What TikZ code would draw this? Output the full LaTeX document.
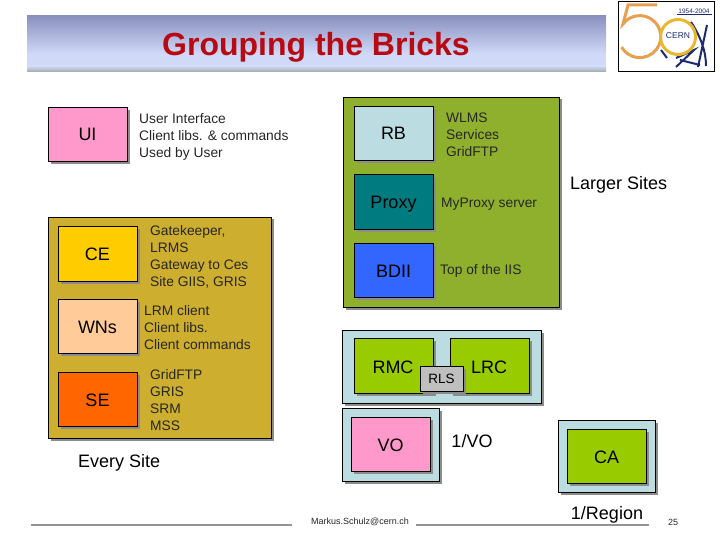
\documentclass[tikz,border=0pt]{standalone}
\usepackage{fontspec}
\setmainfont{Liberation Sans}
\usetikzlibrary{shadows}
\definecolor{rosa}{HTML}{FF99CC}
\definecolor{celeste}{HTML}{BBDDE2}
\definecolor{ocre}{HTML}{CDAE2F}
\definecolor{oliva}{HTML}{8FB02C}
\definecolor{lima}{HTML}{99CC00}
\definecolor{oro}{HTML}{FFCC00}
\definecolor{durazno}{HTML}{FFCC99}
\definecolor{naranja}{HTML}{FF6600}
\definecolor{petroleo}{HTML}{007C80}
\definecolor{azulbdii}{HTML}{3366FF}
\definecolor{titulo}{HTML}{B80A12}
\definecolor{azullogo}{HTML}{1C2C70}
\definecolor{bandaA}{HTML}{8A90BF}
\definecolor{bandaB}{HTML}{D0DAF8}
\definecolor{bandaC}{HTML}{A0AAA8}
\definecolor{cinco}{HTML}{E8A050}
\definecolor{anillo}{HTML}{E8B830}
\tikzset{
  sombra/.style={drop shadow={shadow xshift=2.5pt, shadow yshift=-2.5pt, fill=black!45, opacity=1}},
  caja/.style={draw=black, line width=0.9pt, sombra, inner sep=0pt, font=\fontsize{18}{20}\selectfont,
    text height=13pt, text depth=0pt, minimum width=79pt, minimum height=54.5pt},
  marco/.style={draw=black, line width=0.9pt, sombra},
  texto/.style={anchor=west, align=left, inner sep=0pt, text=black!85, font=\fontsize{13.8}{17}\selectfont},
  rotulo/.style={inner sep=0pt, font=\fontsize{18}{20}\selectfont},
  pie/.style={line width=1.8pt, black!42},
}
\begin{document}
\begin{tikzpicture}[x=1pt, y=-1pt]
    \useasboundingbox (0,0) rectangle (720,540);

    % Banda del titulo
    \shade[top color=bandaA, bottom color=bandaB] (27,16) rectangle (606,54);
    \fill[bandaB] (27,54) rectangle (606,66);
    \shade[top color=bandaB, bottom color=bandaC] (27,66) rectangle (606,72);
    \node[text=titulo, inner sep=0pt, font=\fontsize{32}{34}\selectfont\bfseries] (title) at (316,47) {Grouping the Bricks};

    % Logo
    \draw[black, line width=0.9pt, fill=white] (618,1) rectangle (714,71);
    \draw[azullogo, line width=2pt] (707,25) -- (698,67) (691,22) .. controls (700,36) and (706,50) .. (706,66)
      (661,50) -- (667,58) (676,58) -- (694,50) -- (676,67) (680,60) -- (700,65);
    \draw[azullogo, line width=0.6pt] (677,14) -- (712,14);
    \draw[cinco, line width=3pt] (657,5) -- (628,5) -- (623,24) arc[start angle=217, end angle=510, radius=21];
    \draw[anillo, line width=3pt] (678,37) circle (17.5);
    \node[azullogo, inner sep=0pt, font=\fontsize{8.5}{9}\selectfont] (cern) at (678,36) {CERN};
    \node[azullogo, inner sep=0pt, font=\fontsize{6.5}{7}\selectfont] (anios) at (694,11) {1954-2004};

    % Cliente
    \node[caja, fill=rosa] (UI) at (87.5,134.5) {UI};
    \node[texto] (UItxt) at (139,136.5) {User Interface\\Client libs. \& commands\\Used by User};

    % Sitio
    \draw[marco, fill=ocre] (48,217) rectangle (271,438);
    \node[caja, fill=oro] (CE) at (97.5,254) {CE};
    \node[caja, fill=durazno] (WNs) at (97.5,326.5) {WNs};
    \node[caja, fill=naranja] (SE) at (97.5,399.5) {SE};
    \node[texto] (CEtxt) at (150,257) {Gatekeeper,\\LRMS\\Gateway to Ces\\Site GIIS, GRIS};
    \node[texto] (WNtxt) at (144,328) {LRM client\\Client libs.\\Client commands};
    \node[texto] (SEtxt) at (150,400) {GridFTP\\GRIS\\SRM\\MSS};
    \node[rotulo, anchor=west] (every) at (78,463) {Every Site};

    % Sitios grandes
    \draw[marco, fill=oliva] (343,97) rectangle (559,307);
    \node[caja, fill=celeste] (RB) at (393.5,133.5) {RB};
    \node[caja, fill=petroleo] (Proxy) at (393.5,202) {Proxy};
    \node[caja, fill=azulbdii] (BDII) at (393.5,270.5) {BDII};
    \node[texto] (RBtxt) at (446,135) {WLMS\\Services\\GridFTP};
    \node[texto] (Proxytxt) at (441,204) {MyProxy server};
    \node[texto] (BDIItxt) at (440,271) {Top of the IIS};
    \node[rotulo, anchor=west] (larger) at (570,185) {Larger Sites};

    % Catalogo
    \draw[marco, fill=celeste] (342,330) rectangle (541,403);
    \node[caja, fill=lima] (RMC) at (393.5,366) {};
    \node[caja, fill=lima] (LRC) at (489.5,366) {};
    \node[rotulo] (RMCtxt) at (393,367) {RMC};
    \node[rotulo] (LRCtxt) at (489,367) {LRC};
    \node[draw=black, line width=0.9pt, fill=black!25, sombra, minimum width=43pt, minimum height=25pt, inner sep=0pt,
      font=\fontsize{13.5}{16}\selectfont] (RLS) at (441.5,378.5) {RLS};

    % VO
    \draw[marco, fill=celeste] (342,408) rectangle (439,481);
    \node[caja, fill=rosa] (VO) at (390.5,444.5) {VO};
    \node[rotulo] (VOtxt) at (472,441) {1/VO};

    % CA
    \draw[marco, fill=celeste] (558,420) rectangle (655,492);
    \node[caja, fill=lima] (CA) at (606.5,456.5) {CA};
    \node[rotulo] (CAtxt) at (607,515) {1/Region};

    % Pie
    \draw[pie] (31,525) -- (292,525);
    \draw[pie] (416,525) -- (649,525);
    \node[inner sep=0pt, text=black!85, font=\fontsize{9}{10}\selectfont] (mail) at (360,522) {Markus.Schulz@cern.ch};
    \node[inner sep=0pt, text=black!85, font=\fontsize{9}{10}\selectfont] (num) at (673,522) {25};
\end{tikzpicture}
\end{document}
